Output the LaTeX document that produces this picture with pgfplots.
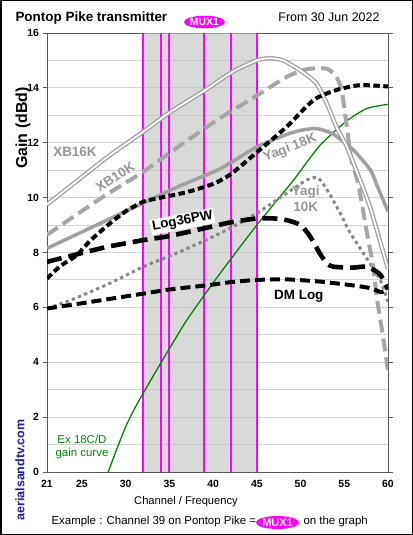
\documentclass[border=0pt]{standalone}
\usepackage{fontspec}
\setmainfont{Liberation Sans}
\usepackage{pgfplots}
\pgfplotsset{compat=1.18}
\usetikzlibrary{shapes.geometric}

\definecolor{magline}{RGB}{255,0,255}
\definecolor{bandc}{RGB}{192,192,192}
\definecolor{gridc}{RGB}{210,210,210}
\definecolor{framec}{RGB}{90,90,90}
\definecolor{greyline}{RGB}{160,160,160}
\definecolor{greydash}{RGB}{166,166,166}
\definecolor{greydot}{RGB}{136,136,136}
\definecolor{greytext}{RGB}{150,150,150}
\definecolor{exgreen}{RGB}{0,135,0}
\definecolor{navy}{RGB}{30,30,150}

\begin{document}
\begin{tikzpicture}
\useasboundingbox (0,0) rectangle (413bp,535bp);
\fill[white] (0,0) rectangle (413bp,535bp);

\begin{axis}[
  at={(47bp,63bp)}, anchor=south west,
  scale only axis, width=341bp, height=439bp,
  xmin=21, xmax=60, ymin=0, ymax=16,
  xtick={21,25,30,35,40,45,50,55,60},
  ytick={0,2,...,16},
  minor ytick={1,3,...,15},
  ymajorgrids, yminorgrids,
  major grid style={draw=gridc, line width=0.9bp},
  minor grid style={draw=gridc, line width=0.9bp},
  axis line style={draw=framec, line width=0.9bp},
  tick align=outside,
  major tick length=4.5bp,
  minor tick length=0pt,
  xtick style={draw=none},
  ytick style={draw=framec, line width=0.8bp},
  ticklabel style={font=\bfseries\fontsize{10.5}{12}\selectfont},
  /pgf/number format/assume math mode=true,
  line join=round,
]

% multiplex band and channel lines
\addplot[fill=bandc, fill opacity=0.6, draw=none] coordinates {(32,16) (45,16)} \closedcycle;
\addplot[magline, line width=2bp] coordinates {(32,0) (32,16)};
\addplot[magline, line width=2bp] coordinates {(34,0) (34,16)};
\addplot[magline, line width=2bp] coordinates {(35,0) (35,16)};
\addplot[magline, line width=2bp] coordinates {(39,0) (39,16)};
\addplot[magline, line width=2bp] coordinates {(42,0) (42,16)};
\addplot[magline, line width=2bp] coordinates {(45,0) (45,16)};

% Ex 18C/D
\addplot[exgreen, line width=1.3bp, smooth, tension=0.4] coordinates {
  (28,0) (29,0.85) (30,1.65) (31,2.3) (32,2.87) (34,3.96) (37,5.54) (40.8,7.24)
  (45,9.0) (49.2,10.64) (52.2,11.9) (55.3,12.8) (57.6,13.25) (60,13.4)};

% Yagi 10K
\addplot[greydot, line width=3bp, dash pattern=on 3.3bp off 3.3bp, smooth, tension=0.4] coordinates {
  (21,5.96) (24,6.3) (28,6.85) (32,7.48) (36,8.0) (40.8,8.7) (45,9.43) (48.4,10.16)
  (50.7,10.64) (52,10.72) (53.2,10.2) (54.5,9.45) (55.7,8.7) (57.2,7.97) (59.1,7.0) (60,6.2)};

% Yagi 18K
\addplot[greyline, line width=3.5bp, smooth, tension=0.4] coordinates {
  (21,8.15) (24,8.6) (28,9.2) (32,9.8) (36,10.4) (40.8,11.05) (45,11.85) (48.4,12.3)
  (50,12.45) (51.5,12.52) (52.5,12.47) (53.8,12.3) (56,11.75) (58,11.0) (58.8,10.4) (60,9.5)};

% XB10K
\addplot[greydash, line width=4bp, dash pattern=on 13bp off 6bp, smooth, tension=0.4] coordinates {
  (21,8.64) (24,9.3) (28,10.15) (32,10.94) (36,11.85) (40.8,12.9) (45,13.72) (48.4,14.4)
  (50.7,14.68) (53,14.7) (54.1,14.4) (54.7,13.9) (55.2,12.8) (55.8,11.4) (56.6,10.5)
  (57.6,8.7) (58.3,7.5) (58.7,6.4) (59.3,5.2) (60,3.7)};

% XB16K (double line)
\addplot[greyline, line width=4.4bp, smooth, tension=0.4] coordinates {
  (21,9.75) (24,10.5) (28,11.5) (32,12.4) (35,13.1) (39,13.9) (42.3,14.6) (45,15.0)
  (46.5,15.08) (48,15.0) (49.9,14.65) (51.8,14.17) (53,13.43) (54.1,12.58) (55.3,11.85)
  (56.8,10.64) (58,9.6) (60,7.4)};
\addplot[white, line width=1.8bp, smooth, tension=0.4] coordinates {
  (21,9.75) (24,10.5) (28,11.5) (32,12.4) (35,13.1) (39,13.9) (42.3,14.6) (45,15.0)
  (46.5,15.08) (48,15.0) (49.9,14.65) (51.8,14.17) (53,13.43) (54.1,12.58) (55.3,11.85)
  (56.8,10.64) (58,9.6) (60,7.4)};

% DM Log
\addplot[black, line width=4bp, dash pattern=on 10bp off 5bp, smooth, tension=0.4] coordinates {
  (21,5.96) (25,6.15) (28,6.3) (32,6.5) (35,6.65) (39.7,6.82) (42,6.92) (45,7.0)
  (48.4,7.02) (52.2,6.94) (56,6.8) (58,6.7) (59.3,6.55) (60,6.75)};

% long dash
\addplot[black, line width=4.6bp, dash pattern=on 15bp off 7bp, smooth, tension=0.4] coordinates {
  (21,7.66) (24,7.9) (27.8,8.2) (32,8.45) (35,8.6) (39.8,8.94) (42,9.1) (45,9.24)
  (47,9.24) (48.4,9.18) (50,9.0) (51.1,8.58) (52.2,7.97) (53,7.6) (53.8,7.48) (56,7.45)
  (57.6,7.48) (59.1,7.2) (60,6.65)};

% short dash, rising
\addplot[black, line width=4bp, dash pattern=on 6.5bp off 3.5bp, smooth, tension=0.4] coordinates {
  (21,7.05) (22.5,7.5) (24.4,7.9) (26,8.45) (28.2,9.06) (30,9.5) (32,9.85) (34,10.0)
  (37,10.2) (40,10.5) (42,10.85) (45,11.65) (48.4,12.58) (51.5,13.56) (54.1,13.92)
  (56.8,14.1) (60,14.05)};

% curve labels
\node[greytext, font=\bfseries\fontsize{13.5}{15}\selectfont] at (axis cs:24.2,11.66) {XB16K};
\node[greytext, rotate=33, font=\bfseries\fontsize{13.5}{15}\selectfont] at (axis cs:28.8,10.75) {XB10K};
\node[greytext, rotate=22, font=\bfseries\fontsize{13.5}{15}\selectfont] at (axis cs:48.8,11.8) {Yagi 18K};
\node[greytext, align=center, font=\bfseries\fontsize{13.5}{16}\selectfont] at (axis cs:50.6,9.95) {Yagi\\10K};
\node[black, font=\bfseries\fontsize{13.5}{15}\selectfont] at (axis cs:49.8,6.41) {DM Log};
\node[black, fill=white, rotate=11, inner sep=1.5bp, font=\bfseries\fontsize{13.5}{15}\selectfont] at (axis cs:36.5,9.13) {Log36PW};
\node[exgreen, align=center, font=\fontsize{11.5}{13}\selectfont] at (axis cs:25.0,0.91) {Ex 18C/D\\gain curve};
\end{axis}

% surrounding texts
\node[anchor=west, font=\bfseries\fontsize{13.5}{15}\selectfont] at (12bp,517bp) {Pontop Pike transmitter};
\node[anchor=east, font=\fontsize{12.5}{14}\selectfont] at (383bp,518bp) {From 30 Jun 2022};
\node[ellipse, fill=magline, text=white, inner sep=0pt, minimum width=40bp, minimum height=12.5bp,
  font=\bfseries\fontsize{10.5}{12}\selectfont] at (204.5bp,513bp) {MUX1};
\node[rotate=90, font=\bfseries\fontsize{16}{18}\selectfont] at (23bp,407bp) {Gain (dBd)};
\node[rotate=90, text=navy, font=\bfseries\fontsize{12.5}{14}\selectfont] at (20bp,65bp) {aerialsandtv.com};
\node[font=\fontsize{11.2}{13}\selectfont] at (186bp,33bp) {Channel / Frequency};
\node[anchor=west, font=\fontsize{11.5}{13}\selectfont] at (48bp,13bp) {Example : Channel 39 on Pontop Pike =};
\node[ellipse, fill=magline, text=white, inner sep=0pt, minimum width=40bp, minimum height=13bp,
  font=\bfseries\fontsize{11}{12}\selectfont] at (277.5bp,12.5bp) {MUX1};
\node[anchor=west, font=\fontsize{11.5}{13}\selectfont] at (300bp,13bp) {on the graph};

\draw[black, line width=1.5bp] (0.75bp,0.75bp) rectangle (412.25bp,534.25bp);
\end{tikzpicture}
\end{document}
